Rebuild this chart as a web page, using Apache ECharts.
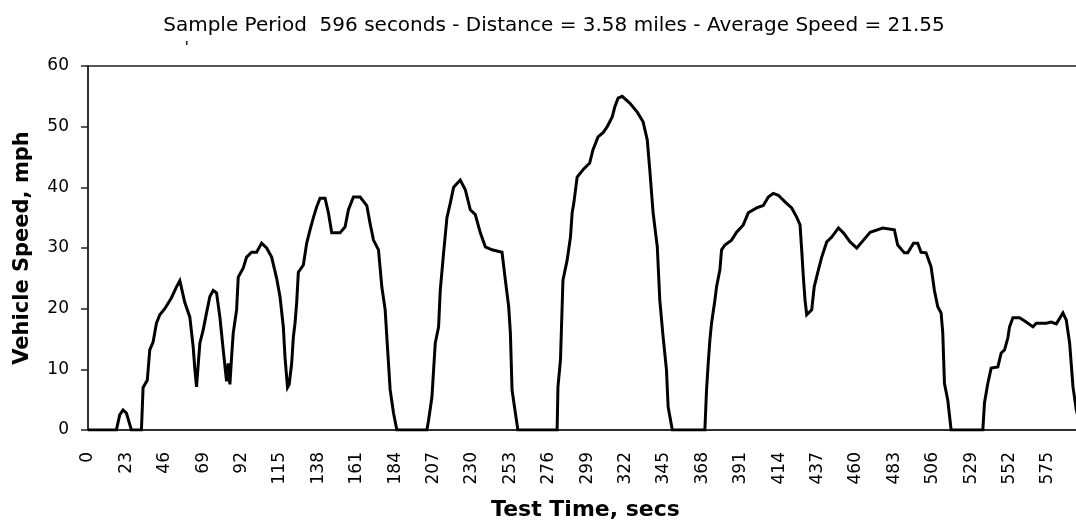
<!DOCTYPE html>
<html>
<head>
<meta charset="utf-8">
<script src="https://cdn.jsdelivr.net/npm/echarts@6/dist/echarts.min.js"></script>
<style>
  html, body { margin: 0; padding: 0; background: #fff; }
  #chart { width: 1076px; height: 523px; }
</style>
</head>
<body>
<div id="chart"></div>
<script>
// Drive cycle trace: test time (s) and vehicle speed (mph) at the turning points of the trace
const timeSecs = [
  0, 17, 19, 21, 23, 26, 32, 33, 35.5, 37, 39, 41, 43, 46, 50, 53, 55, 58, 61, 63, 64, 65,
  67, 69, 71, 73, 75, 77, 79, 81, 83, 84, 85, 86, 87, 89, 90, 93, 95, 98, 101, 104, 107, 110,
  113, 115, 117, 118, 119.5, 120.5, 122, 123, 124, 125, 126, 129, 131, 133, 135, 137, 139, 142,
  144, 146, 151, 154, 156, 159, 163, 167, 169, 171, 174, 176, 178, 179, 181, 183, 185,
  203, 204, 206, 208, 210, 211, 213, 215, 217, 219, 223, 226, 229, 232, 235, 238, 242, 248,
  250, 252, 253, 254, 256, 257.5, 281, 281.5, 283, 284.5, 287, 289, 290, 291, 293, 296.5,
  300.5, 302.5, 305.5, 308.5, 311, 314, 315.5, 317.5, 320, 324.5, 329, 332.5, 335, 336.5,
  338.5, 341, 342.5, 344.5, 346.5, 347.5, 350, 369.5, 370.5, 371.5, 372.5, 373.5, 375.5,
  376.5, 378.5, 379.5, 381.5, 385.5, 388.5, 392.5, 395.5, 400.5, 404.5, 407.5, 410.5, 413.5,
  417.5, 421.5, 424.5, 426.5, 427.5, 428.5, 429.5, 430.5, 433.5, 435, 437.5, 439.5, 442.5,
  445.5, 449.5, 452.5, 456.5, 460.5, 464.5, 468.5, 476, 483, 485, 489, 491, 494.5, 497, 499,
  502, 505, 507, 509, 511, 512, 513, 515, 517, 536, 537, 539, 541, 545, 547, 549, 551, 552,
  554, 558, 562, 566, 568, 574, 577, 580, 584, 586, 588, 590, 592, 594, 596
];
const speedMph = [
  0, 0, 2.5, 3.3, 2.8, 0, 0, 7, 8.2, 13.2, 14.5, 17.6, 19, 20, 21.8, 23.6, 24.6, 21, 18.6, 13.7, 10, 7.1,
  14.3, 16.5, 19.3, 22, 23, 22.6, 18.6, 13.2, 8, 11, 7.5, 12, 16, 19.8, 25.2, 26.7, 28.5, 29.3, 29.3, 30.8, 30, 28.5,
  25, 22, 17, 12, 7, 7.5, 11, 15.3, 17.6, 21, 26, 27.2, 30.8, 33, 35, 36.8, 38.2, 38.2,
  35.8, 32.5, 32.5, 33.5, 36.3, 38.4, 38.4, 37, 34, 31.3, 29.7, 23.6, 19.8, 15.3, 6.6, 2.8, 0,
  0, 1.6, 5.4, 14.3, 17, 23, 29.2, 35, 37.4, 40, 41.2, 39.6, 36.3, 35.5, 32.5, 30.2, 29.7, 29.3,
  24.7, 20.3, 16, 6.6, 2.8, 0, 0, 7.1, 11.5, 24.7, 28, 31.8, 35.8, 37.4, 41.7, 42.9,
  44, 46.2, 48.3, 49, 50, 51.6, 53.2, 54.7, 55, 53.9, 52.4, 50.8, 47.8, 42.9,
  35.8, 30.2, 21.4, 15.3, 9.9, 3.8, 0, 0, 6.6, 11, 14.8, 17.6, 21.4,
  23.6, 26.4, 29.7, 30.5, 31.3, 32.6, 33.8, 35.8, 36.6, 37, 38.4, 39, 38.7,
  37.6, 36.6, 35.1, 33.8, 29.7, 25.2, 21.4, 19, 19.8, 23.6, 26.4, 28.5, 31,
  31.8, 33.3, 32.5, 31, 30, 31.3, 32.6, 33.3, 33, 30.5, 29.2, 29.2, 30.8, 30.8, 29.3,
  29.2, 26.9, 23, 20.3, 19.3, 16, 7.7, 4.9, 0, 0, 4.5, 7.7, 10.2, 10.4, 12.7, 13.2, 15.2, 17,
  18.5, 18.5, 17.8, 17, 17.6, 17.6, 17.8, 17.5, 19.3, 18.1, 14.3, 7.1, 3.3, 1, 0
];
const timeTickStep = 23;
const speedTicks = [0, 10, 20, 30, 40, 50, 60];
const titleText = 'Sample Period  596 seconds - Distance = 3.58 miles - Average Speed = 21.55';
const xAxisTitle = 'Test Time, secs';
const yAxisTitle = 'Vehicle Speed, mph';

const trace = timeSecs.map((t, i) => [t, speedMph[i]]);

const chart = echarts.init(document.getElementById('chart'), null, { renderer: 'canvas' });
const tickFont = { fontFamily: 'DejaVu Sans', fontSize: 17, color: '#000' };
const nameFont = { fontFamily: 'DejaVu Sans', fontWeight: 'bold', color: '#000' };

chart.setOption({
  animation: false,
  backgroundColor: '#fff',
  title: {
    text: titleText,
    left: 549,
    top: 11,
    textAlign: 'center',
    textStyle: { fontFamily: 'DejaVu Sans', fontSize: 20, fontWeight: 'normal', color: '#000' }
  },
  graphic: [
    { type: 'rect', left: 186, top: 41, shape: { width: 1.5, height: 4 }, style: { fill: '#222' } }
  ],
  grid: {
    left: 88,
    top: 66,
    width: 995,
    height: 364,
    show: true,
    borderColor: '#222',
    borderWidth: 1.5,
    containLabel: false,
    outerBoundsMode: 'none'
  },
  xAxis: {
    type: 'value',
    min: 0,
    max: 596,
    interval: timeTickStep,
    name: xAxisTitle,
    nameLocation: 'middle',
    nameGap: 69,
    nameTextStyle: Object.assign({ fontSize: 22 }, nameFont),
    axisLine: { show: true, lineStyle: { color: '#222', width: 1.5 } },
    axisTick: { show: false },
    splitLine: { show: false },
    axisLabel: Object.assign({ rotate: 90, margin: 22, showMaxLabel: false }, tickFont)
  },
  yAxis: {
    type: 'value',
    min: speedTicks[0],
    max: speedTicks[speedTicks.length - 1],
    interval: 10,
    name: yAxisTitle,
    nameLocation: 'middle',
    nameGap: 55,
    nameTextStyle: Object.assign({ fontSize: 21 }, nameFont),
    axisLine: { show: true, lineStyle: { color: '#222', width: 1.5 } },
    axisTick: { show: true, inside: false, length: 7, lineStyle: { color: '#222', width: 1.5 } },
    splitLine: { show: false },
    axisLabel: Object.assign({ margin: 19 }, tickFont)
  },
  series: [{
    type: 'line',
    data: trace,
    showSymbol: false,
    symbol: 'none',
    lineStyle: { color: '#000', width: 3, join: 'miter' },
    clip: true
  }]
});
</script>
</body>
</html>
